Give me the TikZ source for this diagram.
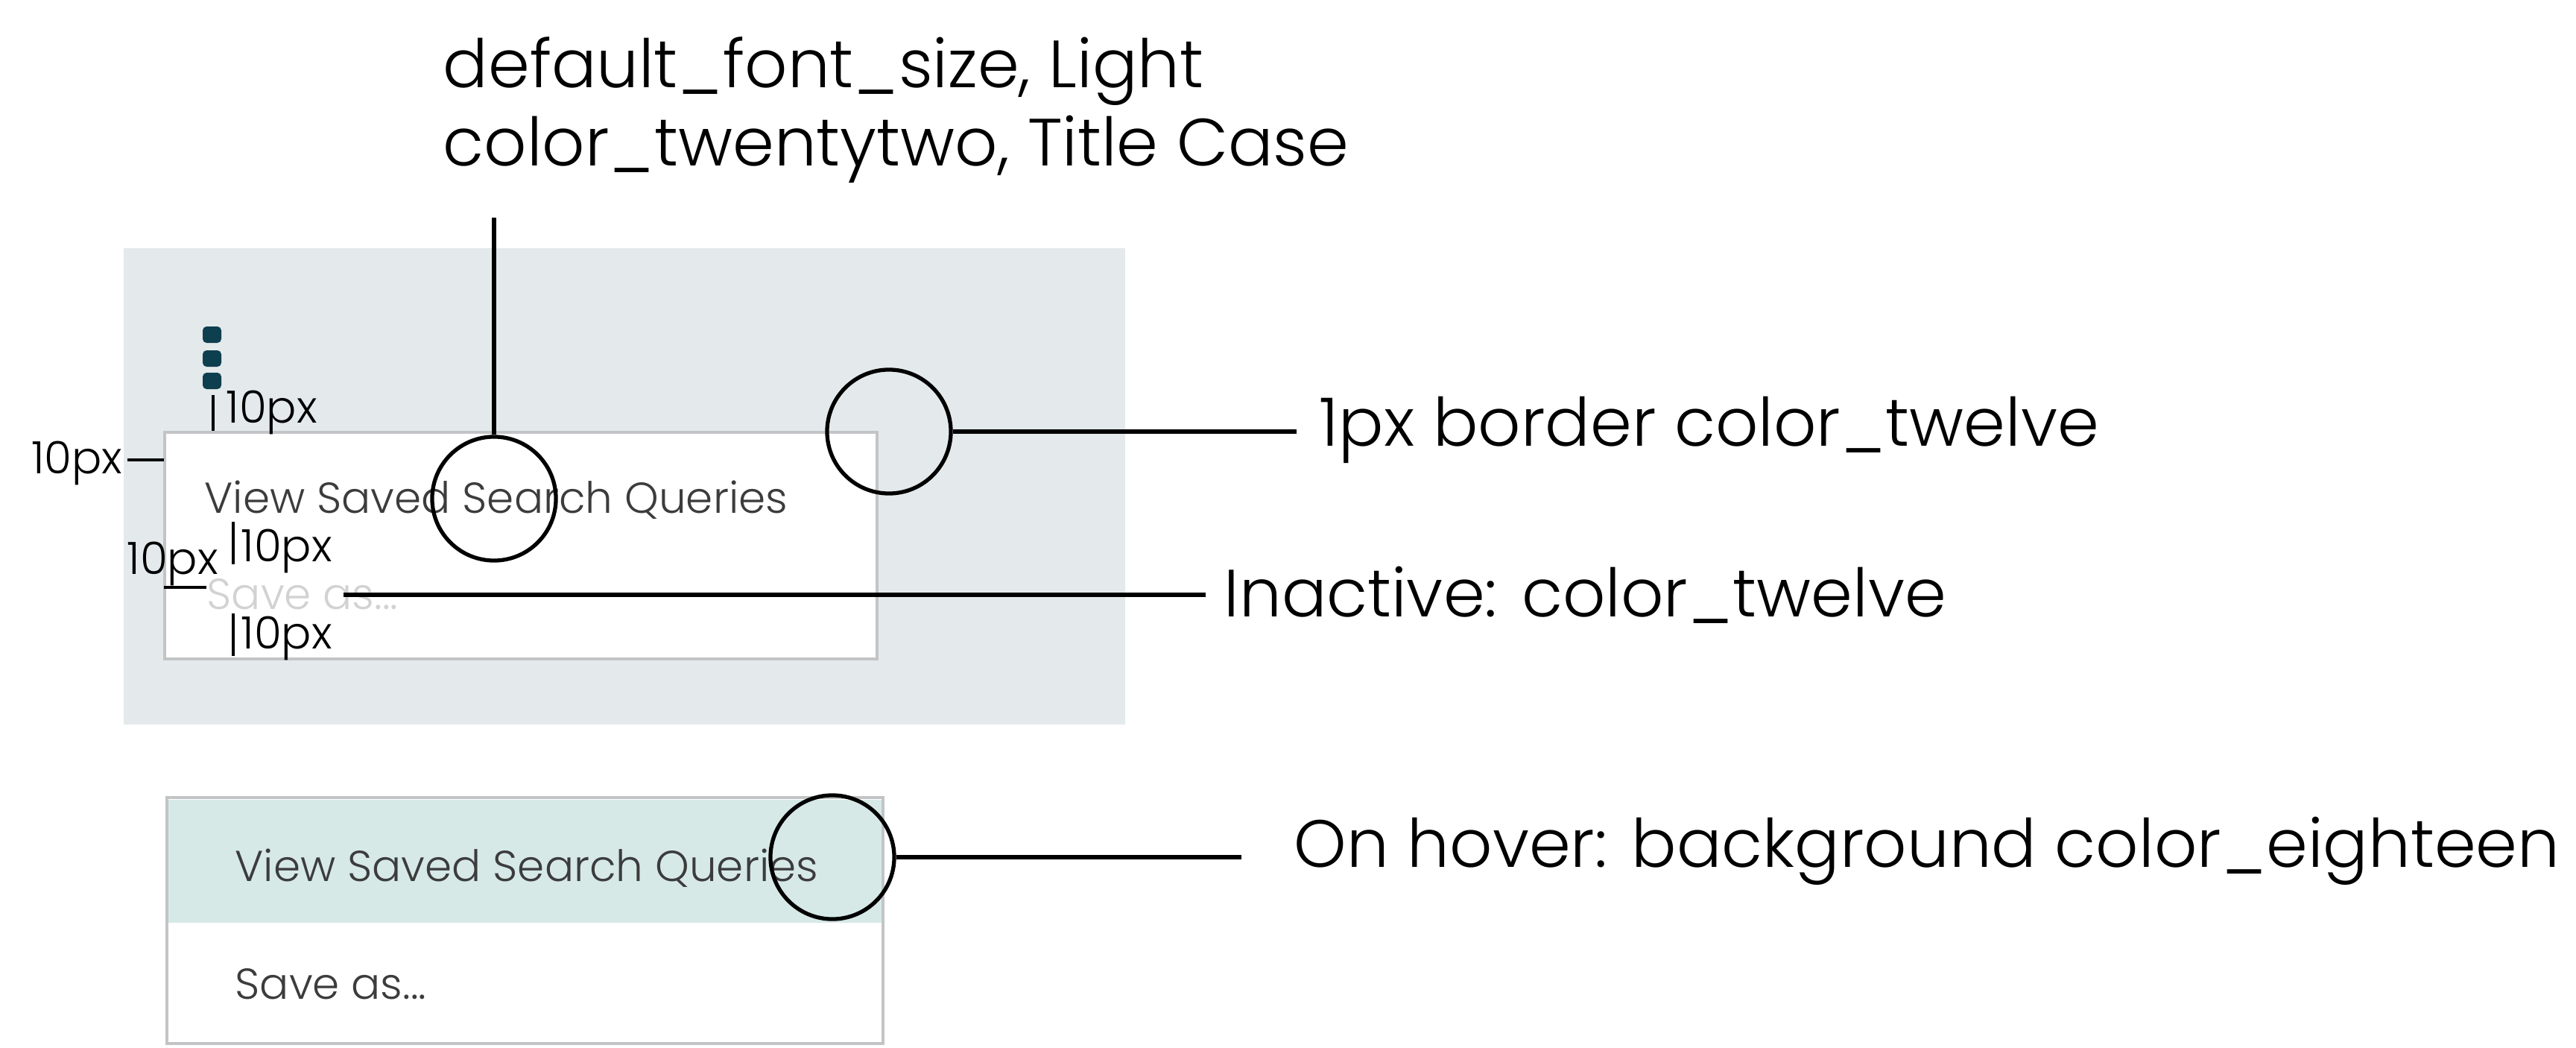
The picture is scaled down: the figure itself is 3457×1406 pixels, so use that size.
\documentclass[tikz,border=0pt]{standalone}
\usepackage{fontspec}
\setmainfont{Poppins}[UprightFont={* Light}]
\usetikzlibrary{positioning,calc}
\definecolor{panelgray}{HTML}{E4E9EB}
\definecolor{menuborder}{HTML}{C2C4C6}
\definecolor{kebabteal}{HTML}{0E3F4E}
\definecolor{itemgray}{HTML}{3C3C3C}
\definecolor{inactivegray}{HTML}{D2D2D2}
\definecolor{hoverteal}{HTML}{D6E9E7}
\tikzset{
  notelbl/.style={font=\fontsize{25.5}{29.9}\selectfont, inner sep=0pt},
  pxlbl/.style={font=\fontsize{17}{19}\selectfont, inner sep=0pt},
  itemlbl/.style={font=\fontsize{16.5}{18}\selectfont, inner sep=0pt, text=itemgray},
  callout/.style={circle, draw, line width=1.5pt, minimum size=1.66cm, inner sep=0pt},
  leader/.style={line width=1.5pt},
  pxtick/.style={line width=1.2pt},
}
\begin{document}
\begin{tikzpicture}[x=0.01cm,y=-0.01cm]
\useasboundingbox (0,0) rectangle (3457,1406);
% closed menu on its panel
\fill[panelgray] (166,333) rectangle (1510,972);
\draw[menuborder,fill=white,line width=0.9pt] (221,580) rectangle (1177,884);
\foreach \y in {449,481,511}{\fill[kebabteal,rounded corners=1.5pt] (272,\y-11) rectangle (297,\y+11);}
\node[itemlbl,anchor=base west] (viewq) at (274,688) {View Saved Search Queries};
\node[itemlbl,anchor=base west,text=inactivegray] (saveas) at (277,817) {Save as...};
% spacing marks
\draw[pxtick] (286,530) -- (286,578);
\node[pxlbl,anchor=base west] (padtop) at (303,567) {10px};
\draw[pxtick] (171,617) -- (220,617);
\node[pxlbl,anchor=base east] (padleft) at (165,635) {10px};
\draw[pxtick] (313,700) -- (313,757);
\node[pxlbl,anchor=base west] (padmid) at (323,753) {10px};
\draw[pxtick] (220,788) -- (277,788);
\node[pxlbl,anchor=base west] (padleftb) at (170,770) {10px};
\draw[pxtick] (313,823) -- (313,880);
\node[pxlbl,anchor=base west] (padbot) at (323,870) {10px};
% callouts
\node[callout] (cfont) at (663,669) {};
\node[notelbl,anchor=north west,align=left] (fontnote) at (594,49) {default\_font\_size, Light\\color\_twentytwo, Title Case};
\draw[leader,shorten >=0.45cm] (cfont.north) -- (cfont.north |- fontnote.south);
\node[callout] (cborder) at (1193,579) {};
\node[notelbl,anchor=base west,inner xsep=0.3cm] (bordernote) at (1740,598) {1px border color\_twelve};
\draw[leader] (cborder.east) -- (cborder.east -| bordernote.west);
\coordinate (inactstart) at (461,798);
\node[notelbl,anchor=base west,inner xsep=0.24cm] (inactnote) at (1618,827) {Inactive: color\_twelve};
\draw[leader] (inactstart) -- (inactstart -| inactnote.west);
% hover state
\fill[hoverteal] (226,1073) rectangle (1183,1238);
\draw[menuborder,line width=1.2pt] (224,1070) rectangle (1185,1400);
\node[itemlbl,anchor=base west] (viewqh) at (315,1182) {View Saved Search Queries};
\node[itemlbl,anchor=base west] (saveash) at (315,1340) {Save as...};
\node[callout] (chover) at (1117,1150) {};
\node[notelbl,anchor=base west,inner xsep=0.7cm] (hovernote) at (1666,1163) {On hover: background color\_eighteen};
\draw[leader] (chover.east) -- (chover.east -| hovernote.west);
\end{tikzpicture}
\end{document}
